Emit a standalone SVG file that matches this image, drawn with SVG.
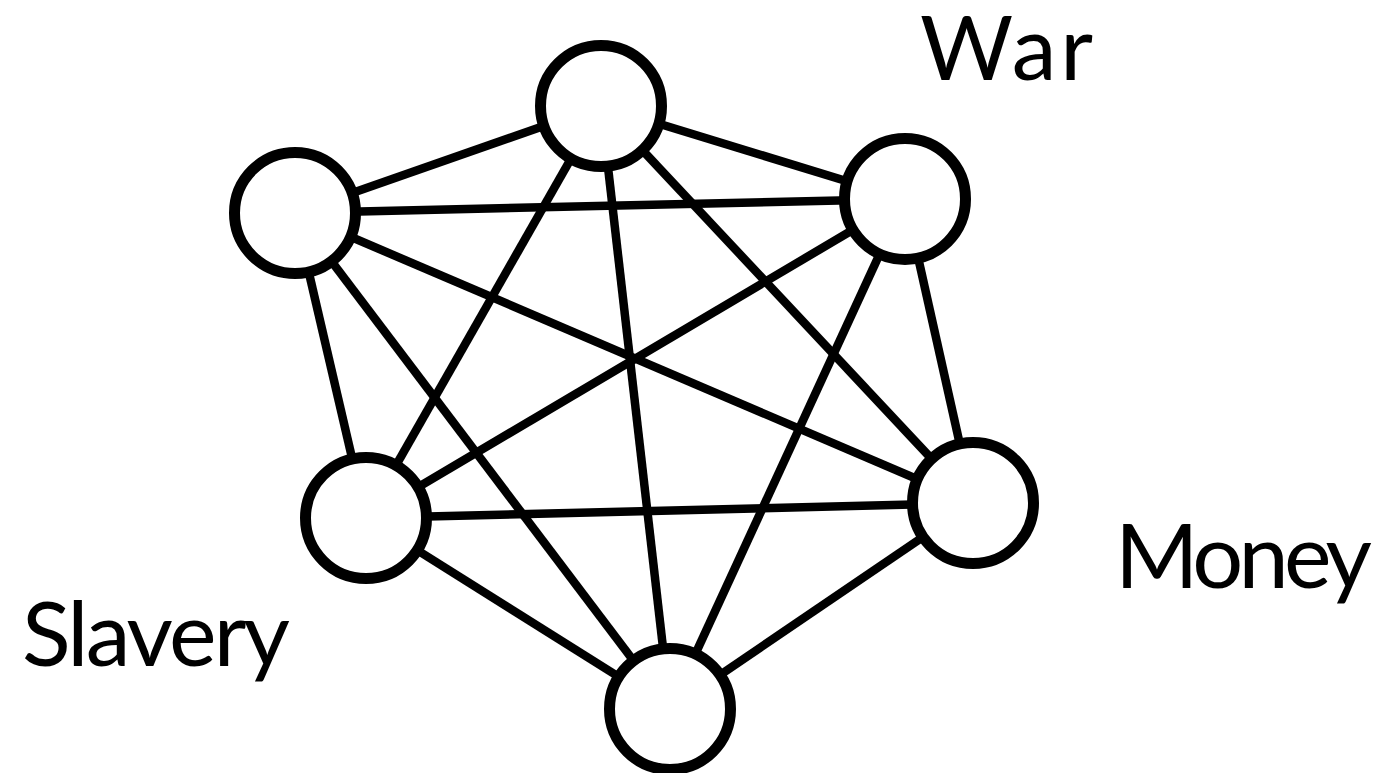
<svg xmlns="http://www.w3.org/2000/svg" width="1399" height="773" viewBox="0 0 1399 773">
<style>
.edge{stroke:#000;stroke-width:8.5;stroke-linecap:butt;fill:none}
.node{fill:#fff;stroke:#000;stroke-width:11}
.lbl{font-family:Lato,"Liberation Sans",sans-serif;font-size:90px;fill:#000}
</style>
<rect width="1399" height="773" fill="#fff"/>
<g id="connectors">
<line class="edge" x1="601" y1="106" x2="295" y2="213"/>
<line class="edge" x1="601" y1="106" x2="905" y2="199"/>
<line class="edge" x1="601" y1="106" x2="366" y2="518"/>
<line class="edge" x1="601" y1="106" x2="973" y2="503"/>
<line class="edge" x1="601" y1="106" x2="670" y2="709"/>
<line class="edge" x1="295" y1="213" x2="905" y2="199"/>
<line class="edge" x1="295" y1="213" x2="366" y2="518"/>
<line class="edge" x1="295" y1="213" x2="973" y2="503"/>
<line class="edge" x1="295" y1="213" x2="670" y2="709"/>
<line class="edge" x1="905" y1="199" x2="366" y2="518"/>
<line class="edge" x1="905" y1="199" x2="973" y2="503"/>
<line class="edge" x1="905" y1="199" x2="670" y2="709"/>
<line class="edge" x1="366" y1="518" x2="973" y2="503"/>
<line class="edge" x1="366" y1="518" x2="670" y2="709"/>
<line class="edge" x1="973" y1="503" x2="670" y2="709"/>
</g>
<g id="node-top"><circle class="node" cx="601" cy="106" r="60.5"/></g>
<g id="node-topleft"><circle class="node" cx="295" cy="213" r="60.5"/></g>
<g id="node-topright"><circle class="node" cx="905" cy="199" r="60.5"/></g>
<g id="node-left"><circle class="node" cx="366" cy="518" r="60.5"/></g>
<g id="node-right"><circle class="node" cx="973" cy="503" r="60.5"/></g>
<g id="node-bottom"><circle class="node" cx="670" cy="709" r="60.5"/></g>
<g id="labels">
<text class="lbl" x="920" y="80" textLength="173">War</text>
<text class="lbl" x="1115" y="588" textLength="257">Money</text>
<text class="lbl" x="22" y="666" textLength="268">Slavery</text>
</g>
</svg>
